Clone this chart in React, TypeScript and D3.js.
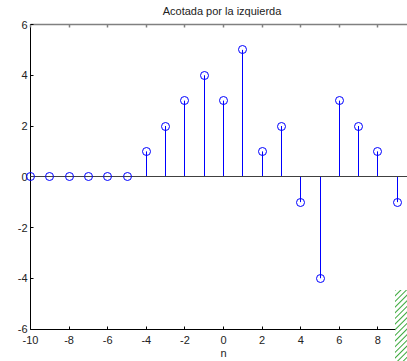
// @ts-nocheck
import React from 'react'
import * as d3 from 'd3'

const nValues = [-10, -9, -8, -7, -6, -5, -4, -3, -2, -1, 0, 1, 2, 3, 4, 5, 6, 7, 8, 9]
const xValues = [0, 0, 0, 0, 0, 0, 1, 2, 3, 4, 3, 5, 1, 2, -1, -4, 3, 2, 1, -1]
const xTicks = [-10, -8, -6, -4, -2, 0, 2, 4, 6, 8]
const yTicks = [-6, -4, -2, 0, 2, 4, 6]
const titleText = 'Acotada por la izquierda'
const xLabelText = 'n'

const App = () => {
  const width = 407
  const height = 361
  const xScale = d3.scaleLinear().domain([-10, 10]).range([30.5, 416.5])
  const yScale = d3.scaleLinear().domain([-6, 6]).range([329, 24.5])
  // snap to pixel centres so 1px lines stay crisp
  const px = (v) => Math.round(v - 0.5) + 0.5
  const left = px(xScale(-10))
  const top = px(yScale(6))
  const bottom = px(yScale(-6))
  const zero = px(yScale(0))
  const font = 'Liberation Sans, Arial, sans-serif'
  const stemColor = '#0000ff'

  return (
    <svg
      width={width}
      height={height}
      style={{ position: 'absolute', left: 0, top: 0, background: '#fff' }}
    >
      <defs>
        <pattern id="hatch" width="4" height="4" patternUnits="userSpaceOnUse" patternTransform="rotate(45)">
          <rect width="4" height="4" fill="#fff" />
          <line x1="0" y1="0" x2="0" y2="4" stroke="#3aa83a" strokeWidth="2" />
        </pattern>
      </defs>
      <rect x={0} y={0} width={width} height={height} fill="#fff" />

      {/* axes box */}
      <line x1={left} x2={width} y1={top} y2={top} stroke="#808080" strokeWidth={1.5} />
      <line x1={left} x2={width} y1={bottom} y2={bottom} stroke="#000" strokeWidth={1} />
      <line x1={left} x2={left} y1={top} y2={bottom} stroke="#000" strokeWidth={1} />

      {/* x ticks */}
      {xTicks.map((t) => (
        <g key={'xt' + t}>
          <line x1={px(xScale(t))} x2={px(xScale(t))} y1={bottom} y2={bottom - 3} stroke="#000" />
          <line x1={px(xScale(t))} x2={px(xScale(t))} y1={top} y2={top + 3} stroke="#808080" strokeWidth={1.5} />
          <text
            x={xScale(t)}
            y={bottom + 14}
            textAnchor="middle"
            fontFamily={font}
            fontSize={11}
            fill="#222"
          >
            {t}
          </text>
        </g>
      ))}

      {/* y ticks */}
      {yTicks.map((t) => (
        <g key={'yt' + t}>
          <line x1={left} x2={left + 3} y1={px(yScale(t))} y2={px(yScale(t))} stroke="#000" />
          <text
            x={left - 3}
            y={yScale(t) + 4}
            textAnchor="end"
            fontFamily={font}
            fontSize={11}
            fill="#222"
          >
            {t}
          </text>
        </g>
      ))}

      {/* stems */}
      {nValues.map((n, i) => (
        <line
          key={'s' + n}
          x1={px(xScale(n))}
          x2={px(xScale(n))}
          y1={zero}
          y2={yScale(xValues[i])}
          stroke={stemColor}
          strokeWidth={1}
        />
      ))}

      {/* baseline */}
      <line x1={left} x2={width} y1={zero} y2={zero} stroke="#404040" strokeWidth={1} />

      {/* markers */}
      {nValues.map((n, i) => (
        <circle
          key={'m' + n}
          cx={px(xScale(n))}
          cy={px(yScale(xValues[i]))}
          r={4}
          fill="none"
          stroke={stemColor}
          strokeWidth={1}
        />
      ))}

      {/* title and label */}
      <text x={222} y={15} textAnchor="middle" fontFamily={font} fontSize={11} fill="#222">
        {titleText}
      </text>
      <text x={xScale(0)} y={357} textAnchor="middle" fontFamily={font} fontSize={11} fill="#222">
        {xLabelText}
      </text>

      {/* hatched corner */}
      <rect x={395} y={290} width={12} height={71} fill="url(#hatch)" />
    </svg>
  )
}

export default App
